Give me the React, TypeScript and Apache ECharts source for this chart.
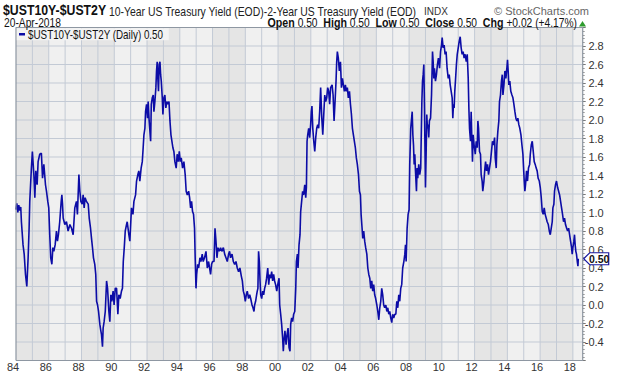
import React, { useEffect, useRef } from "react";
import * as echarts from "echarts";

// ---- data (decimal year, spread in %) ----
const spread1984to1990: [number, number][] = [
  [1983.99, 1.03], [1984.05, 1.1], [1984.11, 1.0], [1984.17, 1.08], [1984.23, 1.02], [1984.29, 1.06],
  [1984.33, 0.9], [1984.43, 0.65], [1984.5, 0.55], [1984.58, 0.33], [1984.66, 0.2], [1984.74, 0.51],
  [1984.8, 0.83], [1984.84, 1.12], [1984.94, 1.48], [1985.0, 1.66], [1985.09, 1.41], [1985.15, 1.16],
  [1985.21, 1.45], [1985.29, 1.3], [1985.35, 1.55], [1985.45, 1.63], [1985.55, 1.64], [1985.62, 1.37],
  [1985.7, 1.52], [1985.8, 1.3], [1985.86, 1.23], [1985.94, 1.12], [1986.0, 1.05], [1986.06, 0.76],
  [1986.12, 0.51], [1986.19, 0.44], [1986.25, 0.62], [1986.31, 0.58], [1986.39, 0.65], [1986.47, 0.8],
  [1986.53, 0.69], [1986.59, 0.76], [1986.67, 0.9], [1986.76, 1.12], [1986.8, 1.19], [1986.84, 1.09],
  [1986.88, 0.94], [1986.98, 0.87], [1987.08, 0.9], [1987.18, 0.8], [1987.29, 0.87], [1987.39, 0.83],
  [1987.49, 0.76], [1987.59, 1.05], [1987.69, 1.12], [1987.75, 0.98], [1987.84, 1.41], [1987.9, 1.23],
  [1987.96, 1.12], [1988.04, 1.09], [1988.1, 1.19], [1988.16, 1.05], [1988.22, 1.16], [1988.3, 1.12],
  [1988.41, 1.09], [1988.47, 0.94], [1988.55, 0.83], [1988.61, 0.72], [1988.67, 0.62], [1988.73, 0.51],
  [1988.81, 0.44], [1988.87, 0.33], [1988.92, 0.04], [1988.98, 0.0], [1989.04, -0.07], [1989.12, -0.21],
  [1989.18, -0.28], [1989.22, -0.32], [1989.28, -0.45], [1989.32, -0.25], [1989.38, -0.18], [1989.45, -0.07],
  [1989.53, 0.26], [1989.59, 0.18], [1989.67, -0.07], [1989.73, -0.18], [1989.79, 0.11], [1989.85, 0.04],
  [1989.93, 0.15], [1989.99, 0.0], [1990.06, 0.18], [1990.14, 0.18], [1990.22, -0.1], [1990.28, 0.11],
  [1990.36, 0.07], [1990.44, 0.15], [1990.5, 0.18], [1990.55, 0.47], [1990.61, 0.62], [1990.67, 0.8],
  [1990.75, 0.87],
];

const spread1990to1997: [number, number][] = [
  [1990.79, 0.9], [1990.89, 0.76], [1990.95, 0.69], [1990.99, 0.83], [1991.05, 1.05], [1991.14, 0.98],
  [1991.2, 1.12], [1991.3, 1.19], [1991.36, 1.34], [1991.44, 1.41], [1991.5, 1.45], [1991.56, 1.34],
  [1991.64, 1.48], [1991.71, 1.55], [1991.75, 1.66], [1991.81, 1.84], [1991.87, 1.91], [1991.91, 2.09],
  [1991.97, 2.17], [1992.03, 2.02], [1992.07, 2.2], [1992.13, 1.99], [1992.22, 1.77], [1992.26, 2.17],
  [1992.32, 2.24], [1992.38, 2.27], [1992.42, 2.09], [1992.48, 2.2], [1992.54, 2.35], [1992.58, 2.53],
  [1992.62, 2.63], [1992.66, 2.45], [1992.7, 2.31], [1992.74, 2.6], [1992.79, 2.63], [1992.83, 2.49],
  [1992.87, 2.42], [1992.93, 2.24], [1992.97, 2.06], [1993.03, 2.24], [1993.09, 2.27], [1993.15, 2.13],
  [1993.21, 2.2], [1993.27, 2.17], [1993.34, 2.2], [1993.4, 1.99], [1993.46, 1.84], [1993.52, 1.77],
  [1993.58, 1.7], [1993.64, 1.66], [1993.7, 1.55], [1993.78, 1.48], [1993.84, 1.63], [1993.91, 1.55],
  [1993.97, 1.66], [1994.03, 1.55], [1994.09, 1.59], [1994.17, 1.48], [1994.25, 1.55], [1994.33, 1.41],
  [1994.39, 1.23], [1994.46, 1.19], [1994.54, 1.23], [1994.6, 1.16], [1994.66, 1.05], [1994.72, 1.12],
  [1994.78, 1.01], [1994.84, 0.98], [1994.9, 0.83], [1994.94, 0.51], [1994.99, 0.18], [1995.03, 0.33],
  [1995.09, 0.44], [1995.15, 0.4], [1995.23, 0.51], [1995.29, 0.47], [1995.37, 0.55], [1995.43, 0.47],
  [1995.51, 0.51], [1995.6, 0.58], [1995.68, 0.4], [1995.76, 0.47], [1995.82, 0.4], [1995.88, 0.33],
  [1995.94, 0.44], [1996.0, 0.47], [1996.09, 0.47], [1996.15, 0.83], [1996.21, 0.69], [1996.27, 0.51],
  [1996.33, 0.62], [1996.41, 0.58], [1996.49, 0.62], [1996.57, 0.58], [1996.66, 0.62], [1996.74, 0.55],
  [1996.82, 0.51], [1996.9, 0.47], [1996.98, 0.55], [1997.04, 0.58], [1997.1, 0.51], [1997.19, 0.55],
  [1997.27, 0.47], [1997.35, 0.44], [1997.43, 0.47], [1997.51, 0.4], [1997.59, 0.36], [1997.67, 0.4],
];

const spread1997to2004: [number, number][] = [
  [1997.76, 0.31], [1997.82, 0.26], [1997.88, 0.15], [1997.94, 0.11], [1998.0, 0.04], [1998.06, 0.11],
  [1998.12, 0.15], [1998.2, 0.07], [1998.27, 0.11], [1998.33, 0.07], [1998.41, 0.0], [1998.47, -0.03],
  [1998.53, -0.07], [1998.57, 0.0], [1998.63, 0.04], [1998.69, 0.11], [1998.73, 0.15], [1998.77, 0.18],
  [1998.81, 0.58], [1998.86, 0.47], [1998.9, 0.26], [1998.94, 0.11], [1999.0, 0.07], [1999.06, 0.15],
  [1999.12, 0.11], [1999.18, 0.18], [1999.24, 0.22], [1999.3, 0.29], [1999.37, 0.4], [1999.43, 0.22],
  [1999.49, 0.33], [1999.55, 0.29], [1999.61, 0.36], [1999.67, 0.26], [1999.73, 0.33], [1999.79, 0.26],
  [1999.85, 0.22], [1999.92, 0.15], [1999.98, 0.22], [2000.06, 0.29], [2000.1, 0.0], [2000.16, -0.1],
  [2000.22, -0.21], [2000.28, -0.36], [2000.32, -0.5], [2000.36, -0.39], [2000.42, -0.28], [2000.49, -0.43],
  [2000.55, -0.32], [2000.61, -0.25], [2000.67, -0.46], [2000.73, -0.5], [2000.77, -0.21], [2000.83, -0.14],
  [2000.89, -0.18], [2000.95, -0.1], [2001.02, -0.07], [2001.08, 0.18], [2001.12, 0.47], [2001.18, 0.55],
  [2001.22, 0.4], [2001.28, 0.65], [2001.34, 0.76], [2001.38, 1.01], [2001.44, 1.12], [2001.5, 1.23],
  [2001.56, 1.19], [2001.63, 1.3], [2001.69, 1.16], [2001.73, 1.27], [2001.77, 1.77], [2001.81, 1.84],
  [2001.87, 1.91], [2001.93, 1.81], [2001.99, 1.95], [2002.03, 2.09], [2002.07, 2.15], [2002.12, 1.91],
  [2002.18, 1.77], [2002.24, 1.66], [2002.3, 1.81], [2002.36, 1.91], [2002.42, 1.95], [2002.48, 1.91],
  [2002.54, 2.09], [2002.6, 2.35], [2002.67, 2.02], [2002.73, 1.84], [2002.79, 2.06], [2002.85, 2.27],
  [2002.91, 2.2], [2002.97, 2.24], [2003.03, 2.35], [2003.09, 2.31], [2003.15, 2.17], [2003.21, 2.35],
  [2003.3, 2.38], [2003.36, 2.27], [2003.42, 1.99], [2003.48, 2.2], [2003.54, 2.42], [2003.58, 2.63],
  [2003.62, 2.74], [2003.68, 2.67], [2003.74, 2.53], [2003.81, 2.63], [2003.87, 2.35], [2003.93, 2.45],
  [2003.99, 2.38], [2004.05, 2.31], [2004.11, 2.38], [2004.17, 2.31], [2004.23, 2.35], [2004.29, 2.24],
  [2004.36, 2.31], [2004.42, 2.17], [2004.48, 2.06], [2004.54, 1.91], [2004.6, 1.84], [2004.66, 1.77],
];

const spread2004to2011: [number, number][] = [
  [2004.72, 1.7], [2004.78, 1.59], [2004.84, 1.52], [2004.91, 1.41], [2004.97, 1.23], [2005.03, 1.19],
  [2005.07, 0.98], [2005.13, 0.83], [2005.17, 0.72], [2005.23, 0.8], [2005.29, 0.69], [2005.35, 0.62],
  [2005.42, 0.55], [2005.48, 0.4], [2005.54, 0.33], [2005.6, 0.29], [2005.66, 0.18], [2005.72, 0.26],
  [2005.78, 0.15], [2005.84, 0.22], [2005.9, 0.11], [2005.96, 0.07], [2006.03, 0.0], [2006.09, -0.07],
  [2006.15, -0.16], [2006.21, -0.03], [2006.27, 0.04], [2006.33, 0.18], [2006.39, 0.11], [2006.45, 0.0],
  [2006.51, -0.03], [2006.58, 0.0], [2006.64, -0.07], [2006.7, -0.03], [2006.76, -0.1], [2006.82, -0.07],
  [2006.88, -0.14], [2006.94, -0.19], [2007.0, -0.1], [2007.06, -0.14], [2007.13, -0.1], [2007.19, -0.1],
  [2007.25, 0.04], [2007.31, -0.03], [2007.37, 0.11], [2007.43, 0.04], [2007.49, 0.18], [2007.55, 0.22],
  [2007.61, 0.4], [2007.68, 0.47], [2007.74, 0.55], [2007.78, 0.65], [2007.82, 0.47], [2007.88, 0.83],
  [2007.94, 0.98], [2008.0, 1.03], [2008.04, 1.52], [2008.1, 1.91], [2008.14, 1.99], [2008.19, 2.09],
  [2008.23, 1.84], [2008.27, 1.73], [2008.31, 1.52], [2008.35, 1.63], [2008.39, 1.45], [2008.45, 1.23],
  [2008.49, 1.48], [2008.53, 1.37], [2008.59, 1.52], [2008.65, 1.41], [2008.71, 1.48], [2008.78, 2.2],
  [2008.82, 2.42], [2008.86, 2.49], [2008.9, 2.6], [2008.94, 2.13], [2008.98, 1.55], [2009.0, 1.27],
  [2009.04, 1.63], [2009.08, 2.06], [2009.12, 1.91], [2009.16, 1.95], [2009.2, 1.81], [2009.24, 1.99],
  [2009.31, 2.02], [2009.37, 2.27], [2009.43, 2.74], [2009.47, 2.63], [2009.51, 2.45], [2009.55, 2.56],
  [2009.61, 2.42], [2009.67, 2.49], [2009.73, 2.6], [2009.79, 2.67], [2009.86, 2.56], [2009.92, 2.74],
  [2009.98, 2.81], [2010.02, 2.89], [2010.08, 2.78], [2010.14, 2.81], [2010.2, 2.71], [2010.26, 2.74],
  [2010.32, 2.56], [2010.39, 2.45], [2010.45, 2.49], [2010.51, 2.38], [2010.57, 2.31], [2010.63, 2.24],
  [2010.67, 2.02], [2010.71, 2.17], [2010.75, 2.13], [2010.79, 2.31], [2010.83, 2.42], [2010.89, 2.6],
  [2010.94, 2.71], [2011.0, 2.78], [2011.06, 2.85], [2011.12, 2.9], [2011.18, 2.78], [2011.24, 2.71],
  [2011.3, 2.74], [2011.36, 2.67], [2011.42, 2.71], [2011.49, 2.63], [2011.55, 2.71], [2011.61, 2.45],
  [2011.65, 2.13],
];

const spread2011to2018: [number, number][] = [
  [2011.69, 1.91], [2011.75, 1.77], [2011.79, 2.09], [2011.83, 1.81], [2011.87, 1.55], [2011.91, 1.84],
  [2011.97, 1.73], [2012.04, 1.63], [2012.1, 1.77], [2012.16, 1.7], [2012.2, 1.99], [2012.24, 1.91],
  [2012.3, 1.66], [2012.36, 1.63], [2012.4, 1.41], [2012.46, 1.34], [2012.5, 1.23], [2012.57, 1.34],
  [2012.63, 1.48], [2012.67, 1.55], [2012.73, 1.45], [2012.79, 1.52], [2012.85, 1.41], [2012.91, 1.48],
  [2012.97, 1.55], [2013.03, 1.66], [2013.09, 1.77], [2013.16, 1.73], [2013.22, 1.81], [2013.26, 1.59],
  [2013.32, 1.48], [2013.36, 1.73], [2013.42, 1.88], [2013.48, 1.99], [2013.52, 2.2], [2013.58, 2.27],
  [2013.64, 2.42], [2013.69, 2.49], [2013.73, 2.27], [2013.79, 2.38], [2013.85, 2.53], [2013.91, 2.45],
  [2013.97, 2.56], [2014.01, 2.65], [2014.05, 2.53], [2014.09, 2.38], [2014.15, 2.42], [2014.21, 2.31],
  [2014.28, 2.27], [2014.34, 2.24], [2014.4, 2.17], [2014.46, 2.09], [2014.52, 2.02], [2014.58, 1.99],
  [2014.64, 2.02], [2014.7, 1.95], [2014.76, 1.91], [2014.83, 1.84], [2014.89, 1.73], [2014.95, 1.63],
  [2014.99, 1.48], [2015.03, 1.34], [2015.07, 1.23], [2015.11, 1.3], [2015.17, 1.45], [2015.23, 1.34],
  [2015.29, 1.48], [2015.36, 1.52], [2015.4, 1.63], [2015.46, 1.73], [2015.52, 1.77], [2015.58, 1.66],
  [2015.64, 1.55], [2015.7, 1.52], [2015.76, 1.48], [2015.82, 1.45], [2015.88, 1.37], [2015.95, 1.34],
  [2016.01, 1.27], [2016.07, 1.16], [2016.13, 1.01], [2016.19, 0.98], [2016.25, 1.05], [2016.31, 0.98],
  [2016.37, 0.94], [2016.43, 0.9], [2016.5, 0.87], [2016.56, 0.8], [2016.62, 0.76], [2016.68, 0.83],
  [2016.74, 0.9], [2016.78, 1.05], [2016.84, 1.09], [2016.88, 1.23], [2016.94, 1.3], [2017.0, 1.34],
  [2017.07, 1.27], [2017.13, 1.23], [2017.19, 1.19], [2017.25, 1.12], [2017.31, 1.05], [2017.37, 0.98],
  [2017.43, 0.9], [2017.49, 0.94], [2017.55, 0.87], [2017.62, 0.83], [2017.68, 0.8], [2017.74, 0.83],
  [2017.8, 0.76], [2017.86, 0.69], [2017.92, 0.62], [2017.96, 0.55], [2018.0, 0.62], [2018.06, 0.69],
  [2018.1, 0.76], [2018.14, 0.65], [2018.18, 0.58], [2018.22, 0.55], [2018.27, 0.47], [2018.31, 0.42],
  [2018.33, 0.5],
];

const lastClose = 0.5;
const darkBandStarts = [1984, 1988, 1992, 1996, 2000, 2004, 2008, 2012, 2016];
const bandWidthYears = 2;
const yearGridLines = [
  1985, 1986, 1987, 1988, 1989, 1990, 1991, 1992, 1993, 1994, 1995, 1996, 1997, 1998, 1999, 2000, 2001,
  2002, 2003, 2004, 2005, 2006, 2007, 2008, 2009, 2010, 2011, 2012, 2013, 2014, 2015, 2016, 2017, 2018,
];
const valueGridLines = [-0.4, -0.2, 0, 0.2, 0.4, 0.6, 0.8, 1.0, 1.2, 1.4, 1.6, 1.8, 2.0, 2.2, 2.4, 2.6, 2.8];
const statsLabels = ["Open", "High", "Low", "Close", "Chg"];
const statsValues = ["0.50", "0.50", "0.50", "0.50", "+0.02 (+4.17%)"];

const X_MIN = 1984;
const X_MAX = 2018.6;
const Y_MIN = -0.6;
const Y_MAX = 3.0;

const SANS = '"Liberation Sans", Arial, sans-serif';
const NARROW_SCALE = 0.82;
const LINE_BLUE = "#0c0ca6";
const LIGHT_BG = "#f0f0f0";
const DARK_BG = "#e5e5e5";
const GRID_LINE = "#c3cad5";
const BORDER = "#8e97a2";

export default function App() {
  const ref = useRef<HTMLDivElement>(null);

  useEffect(() => {
    document.body.style.margin = "0";
    if (!ref.current) return;
    const chart = echarts.init(ref.current, undefined, { renderer: "svg" });

    const series = [
      ...spread1984to1990,
      ...spread1990to1997,
      ...spread1997to2004,
      ...spread2004to2011,
      ...spread2011to2018,
    ];

    const bands: number[][] = [[X_MIN, X_MAX, 0]];
    darkBandStarts.forEach((s) => bands.push([s, s + bandWidthYears, 1]));

    const straight = (data: number[][], color: string, width: number, z: number) => ({
      type: "line",
      data,
      z,
      silent: true,
      clip: false,
      showSymbol: false,
      symbol: "none",
      lineStyle: { color, width },
      emphasis: { disabled: true },
    });

    const gridSeries = [
      ...yearGridLines.map((yr) => straight([[yr, Y_MIN], [yr, Y_MAX]], GRID_LINE, 1, 1)),
      ...valueGridLines.map((v) => straight([[X_MIN, v], [X_MAX, v]], GRID_LINE, 1, 1)),
    ];
    const frameSeries = straight(
      [[X_MIN, Y_MIN], [X_MIN, Y_MAX], [X_MAX, Y_MAX], [X_MAX, Y_MIN], [X_MIN, Y_MIN]],
      BORDER,
      1.2,
      4
    );

    const statsText = statsLabels
      .map((l, i) => `{b|${l}} ${statsValues[i]}`)
      .join("  ");

    const narrowText = (id: string, x: number, y: number, text: string, font: string, extra: any = {}) => ({
      id,
      type: "text",
      x,
      y,
      scaleX: NARROW_SCALE,
      z: extra.z ?? 20,
      style: {
        text,
        font,
        fill: "#111",
        verticalAlign: "middle",
        align: extra.align ?? "left",
        ...(extra.style || {}),
      },
    });

    chart.setOption({
      animation: false,
      backgroundColor: "#ffffff",
      grid: {
        left: 16,
        right: 37.3,
        top: 27.5,
        bottom: 15.5,
        show: false,
      },
      xAxis: {
        type: "value",
        min: X_MIN,
        max: X_MAX,
        interval: 1,
        axisLine: { show: false, onZero: false },
        axisTick: { show: false },
        splitLine: { show: false },
        axisLabel: {
          margin: 1,
          color: "#333",
          fontFamily: SANS,
          fontSize: 11,
          padding: [0, 6, 0, 0],
          formatter: (v: number) => {
            const r = Math.round(v);
            if (Math.abs(v - r) > 1e-6 || r % 2 !== 0) return "";
            return String(r % 100).padStart(2, "0");
          },
        },
      },
      yAxis: {
        type: "value",
        position: "right",
        min: Y_MIN,
        max: Y_MAX,
        interval: 0.2,
        axisLine: { show: false },
        axisTick: { show: true, length: 3, lineStyle: { color: "#777" } },
        minorTick: { show: true, splitNumber: 5, length: 2, lineStyle: { color: "#999" } },
        splitLine: { show: false },
        axisLabel: {
          margin: 21,
          align: "right",
          color: "#333",
          fontFamily: SANS,
          fontSize: 11,
          formatter: (v: number) => {
            if (v <= Y_MIN + 0.01 || v >= Y_MAX - 0.01) return "";
            if (Math.abs(v) < 1e-9) return "0.0";
            return v.toFixed(1);
          },
        },
      },
      series: [
        {
          type: "custom",
          z: 0,
          silent: true,
          data: bands,
          renderItem: (_p: any, api: any) => {
            const tl = api.coord([api.value(0), Y_MAX]);
            const br = api.coord([api.value(1), Y_MIN]);
            return {
              type: "rect",
              shape: { x: tl[0], y: tl[1], width: br[0] - tl[0], height: br[1] - tl[1] },
              style: { fill: api.value(2) ? DARK_BG : LIGHT_BG },
            };
          },
        },
        ...gridSeries,
        {
          type: "line",
          data: series,
          showSymbol: false,
          z: 3,
          lineStyle: { color: LINE_BLUE, width: 1.6 },
        },
        frameSeries,
      ],
      graphic: [
        narrowText("title", 3, 10.5, "$UST10Y-$UST2Y", `bold 15px ${SANS}`),
        narrowText(
          "subtitle",
          109,
          11,
          "10-Year US Treasury Yield (EOD)-2-Year US Treasury Yield (EOD)",
          `12.7px ${SANS}`,
          { style: { fill: "#222" } }
        ),
        {
          id: "indx",
          type: "text",
          x: 424,
          y: 11,
          z: 20,
          style: { text: "INDX", font: `10px ${SANS}`, fill: "#333", verticalAlign: "middle" },
        },
        {
          id: "credit",
          type: "text",
          x: 589,
          y: 10.5,
          z: 20,
          style: {
            text: "\u00a9 StockCharts.com",
            font: `11px ${SANS}`,
            fill: "#666",
            align: "right",
            verticalAlign: "middle",
          },
        },
        narrowText("date", 4, 23, "20-Apr-2018", `12.5px ${SANS}`),
        {
          id: "stats",
          type: "text",
          x: 577,
          y: 23,
          z: 20,
          scaleX: NARROW_SCALE,
          style: {
            text: statsText,
            font: `12.5px ${SANS}`,
            fill: "#111",
            align: "right",
            verticalAlign: "middle",
            rich: {
              b: { font: `bold 13px ${SANS}`, fill: "#111" },
            },
          },
        },
        {
          id: "upTriangle",
          type: "polygon",
          z: 20,
          shape: { points: [[579, 26.5], [586, 26.5], [582.5, 21]] },
          style: { fill: "#2e9b2e" },
        },
        {
          id: "legendBox",
          type: "rect",
          z: 10,
          shape: { x: 16.8, y: 28.3, width: 152, height: 12 },
          style: { fill: "#f3f3f3" },
        },
        {
          id: "legendDash",
          type: "rect",
          z: 11,
          shape: { x: 19, y: 33, width: 6, height: 2.5 },
          style: { fill: LINE_BLUE },
        },
        narrowText("legendText", 28, 34.5, "$UST10Y-$UST2Y (Daily) 0.50", `12px ${SANS}`, { z: 11 }),
      ],
    });

    const p = chart.convertToPixel({ xAxisIndex: 0, yAxisIndex: 0 }, [X_MAX, lastClose]) as number[];
    if (p) {
      const x = p[0];
      const y = p[1];
      chart.setOption({
        graphic: [
          {
            id: "tagBox",
            type: "polygon",
            z: 12,
            shape: {
              points: [[x + 1, y], [x + 7, y - 6], [x + 26, y - 6], [x + 26, y + 6], [x + 7, y + 6]],
            },
            style: { fill: "#ffffff", stroke: "#1a1aa0", lineWidth: 1.2 },
          },
          {
            id: "tagText",
            type: "text",
            z: 13,
            x: x + 16.5,
            y: y + 0.5,
            style: {
              text: lastClose.toFixed(2),
              font: `bold 10.5px ${SANS}`,
              fill: "#111",
              align: "center",
              verticalAlign: "middle",
            },
          },
        ],
      });
    }

    return () => chart.dispose();
  }, []);

  return <div ref={ref} style={{ width: 620, height: 376 }} />;
}
